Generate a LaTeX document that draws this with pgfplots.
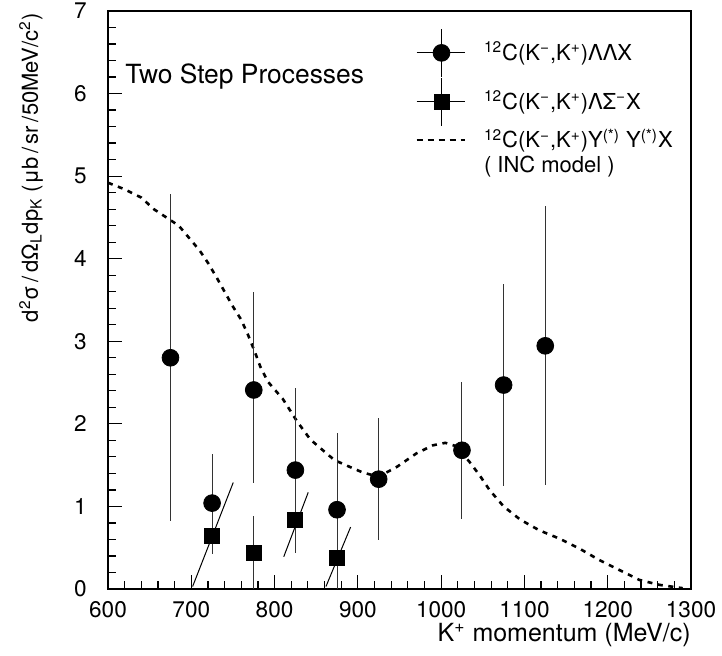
\documentclass[border=0pt]{standalone}
\usepackage{fontspec}
\setmainfont{TeX Gyre Heros}
\usepackage{pgfplots}
\pgfplotsset{compat=1.18}

\begin{document}
\begin{tikzpicture}
\begin{axis}[
    scale only axis,
    width=291.5pt, height=289pt,
    xmin=600, xmax=1300, ymin=0, ymax=7,
    xtick={600,700,...,1300}, ytick={0,1,...,7},
    minor x tick num=4, minor y tick num=4,
    tick pos=left, tick align=inside,
    major tick length=7pt, minor tick length=4pt,
    every tick/.style={black, line width=0.6pt},
    axis line style={line width=0.6pt},
    /pgf/number format/assume math mode=true,
    /pgf/number format/1000 sep={},
    ticklabel style={font=\fontsize{11.3}{13}\selectfont},
    xticklabel style={yshift=-2.7pt},
    yticklabel style={inner sep=1pt, xshift=-9.5pt},
    xlabel={K\textsuperscript{+} momentum (MeV/c)},
    xlabel style={at={(axis description cs:1,-0.0912)}, anchor=base east, inner sep=0pt,
        font=\fontsize{12.5}{14}\selectfont},
    ylabel={d\textsuperscript{2}σ\,/\,dΩ\textsubscript{L}dp\textsubscript{K} (μb\,/\,sr\,/50MeV/c\textsuperscript{2})},
    ylabel style={at={(axis description cs:-0.1201,0.9965)}, anchor=base east, inner sep=0pt,
        font=\fontsize{11}{13}\selectfont},
    legend style={at={(rel axis cs:0.5266,0.9706)}, anchor=north west, draw=none, fill=none,
        inner sep=0pt, font=\fontsize{11}{13}\selectfont, nodes={inner sep=1.2pt},
        column sep=8pt, row sep=0pt},
    legend cell align=left,
]

% INC model curve
\addplot[black, line width=1.3pt, dash pattern=on 2.5pt off 2.8pt, forget plot] coordinates {
    (600,4.92) (620,4.84) (640,4.74) (655,4.60) (670,4.50) (685,4.40) (700,4.22)
    (710,4.10) (720,3.95) (730,3.78) (740,3.60) (750,3.42) (760,3.26) (768,3.08)
    (776,2.88) (783,2.69) (792,2.51) (810,2.30) (827,2.03) (843,1.81) (858,1.68)
    (872,1.56) (890,1.48) (906,1.41) (925,1.36) (947,1.48) (970,1.64) (990,1.74)
    (1005,1.77) (1018,1.73) (1034,1.54) (1046,1.38) (1058,1.20) (1075,1.00)
    (1095,0.84) (1118,0.71) (1142,0.61) (1166,0.49) (1190,0.35) (1214,0.23)
    (1238,0.11) (1262,0.05) (1283,0.02) (1290,0.01)
};

% slanted strokes through the squares
\addplot[black, line width=0.5pt, forget plot] coordinates {(701.6,0.03) (750.4,1.29)};
\addplot[black, line width=0.5pt, forget plot] coordinates {(811,0.39) (840.4,1.17)};
\addplot[black, line width=0.5pt, forget plot] coordinates {(861.7,0.03) (891.3,0.75)};

% LL X
\addplot[black, only marks, mark=*, mark size=4.2pt, mark options={fill=black},
    legend image code/.code={
        \path (0pt,0pt) -- (24pt,0pt);
        \draw[line width=0.5pt, black] (12.5pt,-12pt) -- (12.5pt,12pt);
        \fill[black] (12.5pt,0pt) circle[radius=4.2pt];
    },
    error bars/.cd, y dir=both, y explicit, error mark=none,
    error bar style={line width=0.5pt, black!80}]
coordinates {
    (675,2.80) +- (0,1.98)
    (725,1.04) +- (0,0.60)
    (775,2.41) += (0,1.19) -= (0,1.13)
    (825,1.44) +- (0,1.00)
    (875,0.96) +- (0,0.93)
    (925,1.33) +- (0,0.74)
    (1025,1.68) +- (0,0.83)
    (1075,2.47) +- (0,1.22)
    (1125,2.945) +- (0,1.69)
};
\addlegendentry{\textsuperscript{12}C(K\textsuperscript{−},K\textsuperscript{+})ΛΛX}

% L Sigma- X
\addplot[black, only marks, mark=square*, mark size=3.75pt, mark options={fill=black},
    legend image code/.code={
        \path (0pt,0pt) -- (24pt,0pt);
        \draw[line width=0.5pt, black] (12.5pt,-12pt) -- (12.5pt,12pt);
        \fill[black] (8.75pt,-3.75pt) rectangle (16.25pt,3.75pt);
    },
    error bars/.cd, y dir=both, y explicit, error mark=none,
    error bar style={line width=0.5pt, black!80}]
coordinates {
    (725,0.645) +- (0,0.22)
    (775,0.44) +- (0,0.45)
    (825,0.835) +- (0,0.40)
    (875,0.38) +- (0,0.38)
};
\addlegendentry{\textsuperscript{12}C(K\textsuperscript{−},K\textsuperscript{+})ΛΣ\textsuperscript{−}X}

\addlegendimage{legend image code/.code={
    \draw[black, line width=1.1pt, dash pattern=on 3pt off 2.5pt] (0pt,0pt) -- (24pt,0pt);
}}
\addlegendentry{\textsuperscript{12}C(K\textsuperscript{−},K\textsuperscript{+})Y\textsuperscript{(*)} Y\textsuperscript{(*)}X}
\addlegendimage{empty legend}
\addlegendentry{( INC model )}

\node[anchor=base west, inner sep=0pt, font=\fontsize{13.2}{15}\selectfont]
    at (axis cs:620.4,6.12) {Two Step Processes};
\end{axis}
\pgfresetboundingbox
\useasboundingbox (current axis.south west) ++(-54pt,-33.5pt) rectangle ++(361pt,328pt);
\end{tikzpicture}
\end{document}
